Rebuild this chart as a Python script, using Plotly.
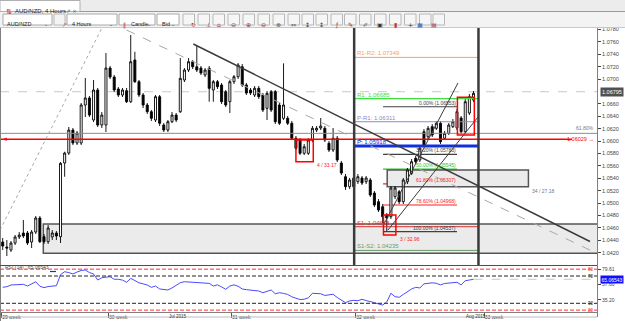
import plotly.graph_objects as go

W, H = 625, 321

# ---------------- data ----------------
candle_idx = list(range(115))
opens = [1.04371, 1.04290, 1.04242, 1.04355, 1.04452, 1.04516, 1.04516, 1.04371, 1.04532, 1.04758,
         1.04456, 1.04376, 1.04452, 1.04516, 1.04456, 1.05645, 1.05806, 1.06177, 1.05968, 1.05968,
         1.06581, 1.06694, 1.06339, 1.06823, 1.06258, 1.06258, 1.07177, 1.07032, 1.06839, 1.06742,
         1.06811, 1.06634, 1.07307, 1.06957, 1.06742, 1.06581, 1.06473, 1.06339, 1.06715, 1.06258,
         1.06177, 1.06311, 1.06419, 1.06473, 1.06984, 1.07145, 1.07279, 1.07198, 1.07177, 1.07065,
         1.07173, 1.06823, 1.06957, 1.06903, 1.06795, 1.06634, 1.06957, 1.07037, 1.07198, 1.06903,
         1.06823, 1.06742, 1.06850, 1.06742, 1.06527, 1.06795, 1.06795, 1.06581, 1.06366, 1.06366,
         1.06286, 1.06044, 1.06016, 1.05802, 1.05802, 1.06016, 1.06177, 1.06210, 1.06205, 1.05963,
         1.05855, 1.06044, 1.05645, 1.05424, 1.05263, 1.05403, 1.05344, 1.05403, 1.05344, 1.05371,
         1.05161, 1.05021, 1.04940, 1.04806, 1.04779, 1.05102, 1.05182, 1.05021, 1.05344, 1.05479,
         1.05721, 1.05694, 1.06150, 1.06069, 1.06231, 1.06205, 1.06286, 1.06044, 1.06124, 1.06231,
         1.06210, 1.06371, 1.06150, 1.06452, 1.06661]
highs = [1.04435, 1.04403, 1.04387, 1.04484, 1.04532, 1.04726, 1.04548, 1.04564, 1.04790, 1.04790,
         1.04500, 1.04645, 1.04564, 1.04548, 1.05661, 1.05827, 1.06226, 1.06210, 1.06161, 1.06613,
         1.07016, 1.06726, 1.06984, 1.06855, 1.06468, 1.07419, 1.07210, 1.07065, 1.06871, 1.06855,
         1.06855, 1.07710, 1.07440, 1.06984, 1.06774, 1.06613, 1.06500, 1.06742, 1.06742, 1.06290,
         1.06339, 1.06468, 1.06452, 1.07339, 1.07177, 1.07339, 1.07307, 1.07548, 1.07210, 1.07177,
         1.07210, 1.06984, 1.06984, 1.06936, 1.06823, 1.06984, 1.07065, 1.07258, 1.07242, 1.06936,
         1.06855, 1.06887, 1.06887, 1.06774, 1.06807, 1.06823, 1.06823, 1.06613, 1.07253, 1.06403,
         1.06323, 1.06081, 1.06048, 1.05952, 1.06048, 1.06242, 1.06242, 1.06371, 1.06242, 1.06000,
         1.06210, 1.06081, 1.05677, 1.05468, 1.05403, 1.05435, 1.05468, 1.05435, 1.05435, 1.05403,
         1.05194, 1.05064, 1.04984, 1.04839, 1.05274, 1.05274, 1.05210, 1.05403, 1.05564, 1.05710,
         1.05758, 1.05919, 1.06194, 1.06242, 1.06274, 1.06323, 1.06323, 1.06161, 1.06290, 1.06355,
         1.06516, 1.06403, 1.06677, 1.06758, 1.06807]
lows = [1.04242, 1.04145, 1.04210, 1.04322, 1.04419, 1.04435, 1.04322, 1.04274, 1.04500, 1.04355,
        1.04339, 1.04339, 1.04403, 1.04403, 1.04355, 1.05424, 1.05774, 1.05935, 1.05935, 1.05935,
        1.06387, 1.06387, 1.06306, 1.06226, 1.06210, 1.06145, 1.07000, 1.06790, 1.06710, 1.06710,
        1.06613, 1.06613, 1.06936, 1.06710, 1.06532, 1.06436, 1.06323, 1.06306, 1.06242, 1.06145,
        1.06145, 1.06290, 1.06306, 1.06452, 1.06952, 1.07113, 1.07161, 1.07113, 1.07065, 1.07032,
        1.06634, 1.06634, 1.06839, 1.06597, 1.06548, 1.06452, 1.06919, 1.07000, 1.06871, 1.06742,
        1.06742, 1.06710, 1.06677, 1.06468, 1.06339, 1.06468, 1.06274, 1.06258, 1.06339, 1.06258,
        1.06016, 1.05855, 1.05774, 1.05774, 1.05774, 1.05984, 1.06145, 1.06177, 1.05984, 1.05823,
        1.05823, 1.05661, 1.05452, 1.05210, 1.05226, 1.05226, 1.05306, 1.05290, 1.05306, 1.05097,
        1.04935, 1.04855, 1.04677, 1.04548, 1.04742, 1.05064, 1.04984, 1.04984, 1.05306, 1.05452,
        1.05629, 1.05661, 1.05903, 1.06032, 1.06065, 1.06177, 1.05952, 1.06016, 1.06097, 1.06210,
        1.06177, 1.06113, 1.06129, 1.06419, 1.06629]
closes = [1.04306, 1.04274, 1.04355, 1.04452, 1.04484, 1.04468, 1.04355, 1.04532, 1.04758, 1.04376,
          1.04376, 1.04597, 1.04516, 1.04468, 1.05640, 1.05806, 1.06177, 1.05968, 1.06129, 1.06581,
          1.06694, 1.06419, 1.06823, 1.06258, 1.06419, 1.07177, 1.07032, 1.06823, 1.06742, 1.06823,
          1.06634, 1.07279, 1.06957, 1.06742, 1.06581, 1.06473, 1.06366, 1.06715, 1.06286, 1.06177,
          1.06311, 1.06419, 1.06339, 1.07011, 1.07145, 1.07279, 1.07198, 1.07145, 1.07097, 1.07145,
          1.06850, 1.06957, 1.06876, 1.06634, 1.06581, 1.06957, 1.07037, 1.07226, 1.06903, 1.06774,
          1.06774, 1.06850, 1.06715, 1.06500, 1.06769, 1.06500, 1.06311, 1.06286, 1.06581, 1.06286,
          1.06044, 1.05882, 1.05802, 1.05908, 1.06016, 1.06205, 1.06205, 1.06242, 1.06016, 1.05855,
          1.06044, 1.05694, 1.05484, 1.05263, 1.05371, 1.05263, 1.05424, 1.05323, 1.05403, 1.05129,
          1.04968, 1.04887, 1.04779, 1.04758, 1.05242, 1.05242, 1.05021, 1.05371, 1.05532, 1.05666,
          1.05666, 1.05882, 1.05935, 1.06205, 1.06097, 1.06286, 1.05989, 1.06124, 1.06258, 1.06311,
          1.06473, 1.06150, 1.06634, 1.06715, 1.06769]
rsi_values = [53.5, 54.3, 56.8, 57, 57.5, 57.8, 55.3, 59, 61.6, 55,
              53, 54.5, 55.3, 55.8, 72, 76.3, 75, 73, 75.8, 78,
              78.8, 75, 73, 64.1, 67.5, 68.5, 69, 65.2, 65.2, 64,
              60.8, 66.6, 63, 60, 58.5, 56.8, 53.4, 55.3, 51, 50,
              49.5, 52.5, 57, 60.2, 61.6, 61.2, 60.8, 60.4, 60.2, 59.6,
              59.2, 55.3, 57, 54, 50.5, 55.3, 57, 55, 51, 50,
              49.5, 49, 48, 45.5, 47, 49.5, 44, 45.5, 44.5, 43,
              39.5, 37, 35.5, 35.9, 38, 44.7, 44.7, 44, 41.5, 42,
              43.2, 38.5, 34.5, 30.9, 33.5, 34.3, 33.8, 35.9, 34, 33,
              31, 29, 27.5, 32, 44.7, 39.7, 38.8, 43, 47.5, 51,
              53.4, 52.5, 58.5, 59.5, 60, 59.3, 57, 59, 59.8, 60.3,
              60.8, 57, 63.1, 64.1, 65.2]

# 1.0680 is hidden behind the current-price box in the reference
price_ticks = [1.0420, 1.0440, 1.0460, 1.0480, 1.0500, 1.0520, 1.0540, 1.0560, 1.0580,
               1.0600, 1.0620, 1.0640, 1.0660, 1.0700, 1.0720, 1.0740, 1.0760, 1.0780]
rsi_ticks = [79.61, 57.6, 35.2]
rsi_tick_labels = ["79.61", "57.60", "35.20"]
rsi_levels_red = [80, 20]
rsi_levels_black = [70, 30]
week_ticks = [-0.25, 25.6, 55.4, 85.5, 116.6]
week_labels = ["29 week", "30 week", "31 week", "32 week", "33 week"]
month_centers = [42.4, 114.6]
month_labels = ["Jul 2015", "Aug 2015"]

pivot_names = ["R1-R2", "R1", "P-R1", "P", "S1", "S1-S2"]
pivot_values = [1.07349, 1.06685, 1.06311, 1.05918, 1.04618, 1.04235]
pivot_colors = ["#f4a070", "#40e040", "#9088cc", "#1030e0", "#e03030", "#6a9a6a"]
pivot_widths = [1, 1.2, 1, 3, 1, 1]

fib_pcts = ["0.00%", "38.20%", "50.00%", "61.80%", "78.60%", "100.00%"]
fib_values = [1.06553, 1.05783, 1.05545, 1.05307, 1.04968, 1.04537]
fib_colors = ["#404040", "#404040", "#30c030", "#ff2020", "#ff2020", "#404040"]

current_price = 1.06795
current_rsi = 65.2
red_level = 1.06029
gray_level = 1.06124
session_lines = [85.1, 115.2]

# ---------------- helpers for pixel-placed chrome ----------------
def px(x):
    return x / W

def py(y):
    return 1 - y / H

FONT = "Liberation Sans"
shapes = []
ann = []

fig = go.Figure()
fig.add_trace(go.Candlestick(
    x=candle_idx, open=opens, high=highs, low=lows, close=closes,
    increasing=dict(line=dict(color="#000000", width=0.9), fillcolor="#ffffff"),
    decreasing=dict(line=dict(color="#000000", width=0.9), fillcolor="#000000"),
    whiskerwidth=0, hoverinfo="skip", showlegend=False, xaxis="x", yaxis="y"))
fig.add_trace(go.Scatter(
    x=candle_idx, y=rsi_values, mode="lines", line=dict(color="#4a4aff", width=1),
    hoverinfo="skip", showlegend=False, xaxis="x2", yaxis="y2"))

# ---- filled zones (below candles) ----
shapes.append(dict(type="rect", xref="x", yref="y", x0=9.83, x1=150, y0=1.04189, y1=1.04661,
                   fillcolor="#ebebeb", line=dict(color="#555555", width=1.5), layer="below"))
for v, c in zip(fib_values, fib_colors):
    shapes.append(dict(type="line", xref="x", yref="y", x0=92.1, x1=110.0, y0=v, y1=v,
                       line=dict(color=c, width=1.2), layer="below"))
shapes.append(dict(type="rect", xref="x", yref="y", x0=93.1, x1=127.3, y0=1.05263, y1=1.05532,
                   fillcolor="#ebebeb", line=dict(color="#555555", width=1.5), layer="below"))

# horizontal full-width levels
shapes.append(dict(type="line", xref="x domain", yref="y", x0=0, x1=1, y0=current_price, y1=current_price,
                   line=dict(color="#c8c8c8", width=1, dash="dash"), layer="below"))
shapes.append(dict(type="line", xref="x domain", yref="y", x0=0, x1=1, y0=gray_level, y1=gray_level,
                   line=dict(color="#8c8c8c", width=1)))
shapes.append(dict(type="line", xref="x domain", yref="y", x0=0, x1=0.958, y0=red_level, y1=red_level,
                   line=dict(color="#ff0000", width=1.5)))

# pivot lines between session separators
for n, v, c, w in zip(pivot_names, pivot_values, pivot_colors, pivot_widths):
    shapes.append(dict(type="line", xref="x", yref="y", x0=session_lines[0], x1=session_lines[1],
                       y0=v, y1=v, line=dict(color=c, width=w)))
    ann.append(dict(xref="x", yref="y", x=session_lines[0] + 0.3, y=v, text=f"{n}: {v:.5f}",
                    showarrow=False, xanchor="left", yanchor="bottom", yshift=-1,
                    font=dict(family=FONT, size=6, color=c)))

# fib labels
for p, v, c in zip(fib_pcts, fib_values, fib_colors):
    ann.append(dict(xref="x", yref="y", x=110.2, y=v, text=f"{p} ({v:.5f})", showarrow=False,
                    xanchor="right", yanchor="bottom", yshift=-1,
                    font=dict(family=FONT, size=5, color=c)))

# trend lines
trend = [
    (-0.65, 1.04564, 23.97, 1.07818, "#a8a8a8", "dot", 1),
    (30.02, 1.07790, 143.9, 1.04187, "#a8a8a8", "dash", 1),
    (46.15, 1.07565, 142.2, 1.04379, "#3c3c3c", "solid", 1.5),
    (92.08, 1.04629, 110.24, 1.06936, "#3c3c3c", "solid", 1),
    (93.29, 1.04564, 115.08, 1.06387, "#3c3c3c", "solid", 1),
]
for x0, y0, x1, y1, c, d, w in trend:
    shapes.append(dict(type="line", xref="x", yref="y", x0=x0, y0=y0, x1=x1, y1=y1,
                       line=dict(color=c, width=w, dash=d)))

# red boxes
for x0, x1, y0, y1 in [(71.0, 75.2, 1.05666, 1.06016), (92.2, 95.2, 1.04484, 1.04806),
                       (110.1, 114.2, 1.06097, 1.06705)]:
    shapes.append(dict(type="rect", xref="x", yref="y", x0=x0, x1=x1, y0=y0, y1=y1,
                       line=dict(color="#ff0000", width=1.5)))
ann.append(dict(xref="x", yref="y", x=75.6, y=1.05610, text="4 / 33.17", showarrow=False,
                xanchor="left", font=dict(family=FONT, size=5, color="#ff2020")))
ann.append(dict(xref="x", yref="y", x=95.7, y=1.04420, text="3 / 32.96", showarrow=False,
                xanchor="left", font=dict(family=FONT, size=5, color="#ff2020")))
ann.append(dict(xref="x", yref="y", x=127.6, y=1.05200, text="34 / 27.18", showarrow=False,
                xanchor="left", font=dict(family=FONT, size=5, color="#777777")))

# session separators
for s in session_lines:
    shapes.append(dict(type="line", xref="x", yref="y domain", x0=s, x1=s, y0=0, y1=1,
                       line=dict(color="#3a3a3a", width=2.5)))

# red level labels
ann.append(dict(xref="paper", yref="y", x=px(596), y=red_level, text="1.06029 →", showarrow=False,
                xanchor="right", font=dict(family=FONT, size=5.5, color="#ff0000")))
ann.append(dict(xref="paper", yref="y", x=px(0), y=red_level, text="◄", showarrow=False,
                xanchor="left", font=dict(family=FONT, size=6, color="#ff0000")))
ann.append(dict(xref="paper", yref="y", x=px(596), y=gray_level, text="61.80%", showarrow=False,
                xanchor="right", yanchor="bottom", font=dict(family=FONT, size=5, color="#777777")))

# current price boxes
ann.append(dict(xref="paper", yref="y", x=px(599.5), y=current_price, text="1.06795", showarrow=False,
                xanchor="left", bgcolor="#505050", borderpad=1,
                font=dict(family=FONT, size=5.5, color="#ffffff")))
ann.append(dict(xref="paper", yref="y2", x=px(599.5), y=current_rsi, text="65.06543", showarrow=False,
                xanchor="left", bgcolor="#1010ff", borderpad=0.5,
                font=dict(family=FONT, size=5, color="#ffffff")))

# RSI levels
for lv in rsi_levels_red:
    shapes.append(dict(type="line", xref="x2 domain", yref="y2", x0=0, x1=1, y0=lv, y1=lv,
                       line=dict(color="#ff3030", width=1, dash="4px,2px")))
    ann.append(dict(xref="paper", yref="y2", x=px(596), y=lv, text=str(lv), showarrow=False,
                    xanchor="right", font=dict(family=FONT, size=4.5, color="#ff3030")))
for lv in rsi_levels_black:
    shapes.append(dict(type="line", xref="x2 domain", yref="y2", x0=0, x1=1, y0=lv, y1=lv,
                       line=dict(color="#222222", width=1, dash="4px,2px")))
    ann.append(dict(xref="paper", yref="y2", x=px(596), y=lv, text=str(lv), showarrow=False,
                    xanchor="right", font=dict(family=FONT, size=4.5, color="#222222")))
shapes.append(dict(type="line", xref="x2", yref="y2", x0=candle_idx[-1], x1=143.9,
                   y0=current_rsi, y1=current_rsi, line=dict(color="#c8c8c8", width=1, dash="dash")))
ann.append(dict(xref="paper", yref="paper", x=px(3), y=py(271.5), text="RSI (14) : 65.06543",
                showarrow=False, xanchor="left", font=dict(family=FONT, size=5, color="#444444")))
shapes.append(dict(type="line", xref="paper", yref="paper", x0=px(50), x1=px(56), y0=py(271.5),
                   y1=py(271.5), line=dict(color="#2020ff", width=1.2)))

# month row
for c, t in zip(month_centers, month_labels):
    ann.append(dict(xref="x2", yref="paper", x=c, y=py(321), text=t, showarrow=False,
                    yanchor="bottom", font=dict(family=FONT, size=4.5, color="#333333")))
shapes.append(dict(type="line", xref="paper", yref="paper", x0=0, x1=px(597), y0=py(317),
                   y1=py(317), line=dict(color="#bdbdbd", width=1)))

# frame
for x0, y0, x1, y1, c, w in [(0.5, 28, 0.5, 321, "#808080", 1), (597.5, 28, 597.5, 317, "#808080", 1),
                             (0, 265.5, 597, 265.5, "#505050", 1.2), (0, 312.5, 597, 312.5, "#808080", 1)]:
    shapes.append(dict(type="line", xref="paper", yref="paper", x0=px(x0), y0=py(y0), x1=px(x1),
                       y1=py(y1), line=dict(color=c, width=w)))

# ---------------- top tab / toolbar chrome ----------------
shapes.append(dict(type="rect", xref="paper", yref="paper", x0=0, x1=1, y0=py(27.5), y1=1,
                   fillcolor="#f3f3f3", line=dict(width=0)))
shapes.append(dict(type="rect", xref="paper", yref="paper", x0=0, x1=1, y0=py(11.5), y1=1,
                   fillcolor="#ececec", line=dict(width=0)))
shapes.append(dict(type="rect", xref="paper", yref="paper", x0=0, x1=px(80), y0=py(11.5), y1=py(0.5),
                   fillcolor="#ffffff", line=dict(color="#b0b0b0", width=1)))
shapes.append(dict(type="line", xref="paper", yref="paper", x0=px(80), x1=1, y0=py(11.5), y1=py(11.5),
                   line=dict(color="#9a9a9a", width=1)))
shapes.append(dict(type="line", xref="paper", yref="paper", x0=0, x1=1, y0=py(27.5), y1=py(27.5),
                   line=dict(color="#c8c8c8", width=1)))
ann.append(dict(xref="paper", yref="paper", x=px(4), y=py(6), text="⇅", showarrow=False, xanchor="left",
                font=dict(family="DejaVu Sans", size=7, color="#d02020")))
ann.append(dict(xref="paper", yref="paper", x=px(13), y=py(6), text="AUD/NZD, 4 Hours", showarrow=False,
                xanchor="left", font=dict(family=FONT, size=6, color="#222222")))
ann.append(dict(xref="paper", yref="paper", x=px(64), y=py(6), text="⇗ ×", showarrow=False,
                xanchor="left", font=dict(family="DejaVu Sans", size=5.5, color="#555555")))

boxes = [(3, 52, "AUD/NZD", 5), (67, 117, "4 Hours", 70), (119, 155, "Candle", 129), (157, 179, "Bid", 160)]
for x0, x1, t, tx in boxes:
    shapes.append(dict(type="rect", xref="paper", yref="paper", x0=px(x0), x1=px(x1), y0=py(25), y1=py(14),
                       fillcolor="#ffffff", line=dict(color="#a8a8a8", width=1)))
    ann.append(dict(xref="paper", yref="paper", x=px(tx), y=py(19.5), text=t, showarrow=False,
                    xanchor="left", font=dict(family=FONT, size=5.5, color="#222222")))
    ann.append(dict(xref="paper", yref="paper", x=px(x1 - 2), y=py(19.5), text="⌄", showarrow=False,
                    xanchor="right", font=dict(family="DejaVu Sans", size=5, color="#444444")))
ann.append(dict(xref="paper", yref="paper", x=px(121), y=py(19.5), text="‖", showarrow=False,
                xanchor="left", font=dict(family="DejaVu Sans", size=6, color="#cc2020")))
shapes.append(dict(type="rect", xref="paper", yref="paper", x0=px(54), x1=px(65), y0=py(25), y1=py(14),
                   fillcolor="#f4f4f4", line=dict(color="#b8b8b8", width=1)))
ann.append(dict(xref="paper", yref="paper", x=px(59.5), y=py(19.5), text="↗", showarrow=False,
                font=dict(family="DejaVu Sans", size=6, color="#cc3030")))

btn_x = [183, 198, 213, 228, 243, 258, 273, 288, 302, 316, 331, 344.5, 359.5, 374.5, 389.5, 404.5, 419.5, 433]
btn_g = ["↻", "⊥", "⌂", "⊖", "⊕", "⊖", "⊗", "⇔", "↨", "↨", "ƒ", "✎", "✐", "▣", "▮", "+", "▦", "▤"]
btn_c = ["#cc2020", "#444", "#aa3030", "#884444", "#884444", "#aa3030", "#555", "#444", "#444", "#444",
         "#884444", "#aa3030", "#555", "#333", "#cc3030", "#333", "#3060c0", "#aa3030"]
for bx, g, c in zip(btn_x, btn_g, btn_c):
    shapes.append(dict(type="rect", xref="paper", yref="paper", x0=px(bx), x1=px(bx + 11.5), y0=py(25),
                       y1=py(14), fillcolor="#f6f6f6", line=dict(color="#b8b8b8", width=1)))
    ann.append(dict(xref="paper", yref="paper", x=px(bx + 5.8), y=py(19.5), text=g, showarrow=False,
                    font=dict(family="DejaVu Sans", size=6, color=c)))

x_range = [-0.654, 143.9]
fig.update_layout(
    width=W, height=H, margin=dict(l=0, r=0, t=0, b=0),
    paper_bgcolor="#ffffff", plot_bgcolor="#ffffff",
    shapes=shapes, annotations=ann, showlegend=False,
    xaxis=dict(domain=[0, px(597)], range=x_range, anchor="y", showticklabels=False, ticks="",
               showgrid=False, zeroline=False, rangeslider=dict(visible=False), fixedrange=True),
    yaxis=dict(domain=[py(265), py(28)], range=[1.0400, 1.07823], anchor="x", side="right",
               tickvals=price_ticks, ticktext=[f"{v:.4f}" for v in price_ticks], ticks="outside",
               ticklen=3, tickcolor="#444444", tickfont=dict(family=FONT, size=5.5, color="#444444"),
               showgrid=False, zeroline=False, automargin=False, fixedrange=True),
    xaxis2=dict(domain=[0, px(597)], range=x_range, anchor="y2", tickvals=week_ticks, ticktext=week_labels,
                ticks="outside", ticklen=5, tickcolor="#555555", ticklabelposition="outside right",
                tickfont=dict(family=FONT, size=5, color="#333333"), showgrid=False, zeroline=False,
                automargin=False, fixedrange=True),
    yaxis2=dict(domain=[py(312), py(266)], range=[17.25, 84.65], anchor="x2", side="right",
                tickvals=rsi_ticks, ticktext=rsi_tick_labels, ticks="outside", ticklen=3,
                tickcolor="#444444", tickfont=dict(family=FONT, size=5, color="#444444"),
                showgrid=False, zeroline=False, automargin=False, fixedrange=True),
)

fig.write_html("out.html")
